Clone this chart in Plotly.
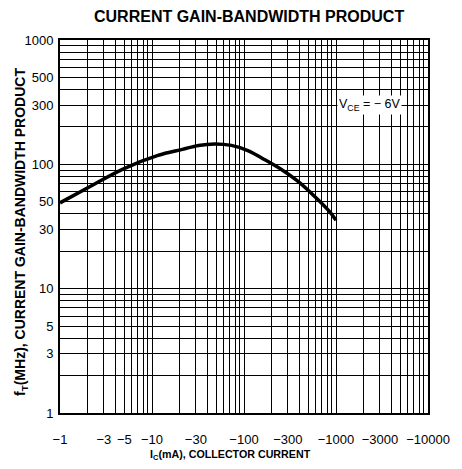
import plotly.graph_objects as go

# Data
ic_ma = [1, 2.1, 4.9, 11.6, 21.4, 32, 48, 73, 110, 164, 248, 372, 560, 843, 1000]
ft_mhz = [49, 66, 92, 118, 132, 142, 146, 142, 129, 110, 92, 74.5, 57, 42, 35.5]

x_label_vals = [1, 3, 5, 10, 30, 100, 300, 1000, 3000, 10000]
x_label_text = ["\u22121", "\u22123", "\u22125", "\u221210", "\u221230", "\u2212100",
                "\u2212300", "\u22121000", "\u22123000", "\u221210000"]
y_label_vals = [1, 3, 5, 10, 30, 50, 100, 300, 500, 1000]
y_label_text = ["1", "3", "5", "10", "30", "50", "100", "300", "500", "1000"]

x_grid = [k * 10 ** d for d in range(4) for k in range(1, 10)] + [10000]
y_grid = [k * 10 ** d for d in range(3) for k in range(1, 10)] + [1000]
x_minor = [g for g in x_grid if g not in x_label_vals]
y_minor = [g for g in y_grid if g not in y_label_vals]

FONT = "Liberation Sans, Arial, sans-serif"

fig = go.Figure()
fig.add_trace(go.Scatter(
    x=ic_ma, y=ft_mhz, mode="lines",
    line=dict(color="black", width=3.5, shape="spline", smoothing=1.0),
    showlegend=False, hoverinfo="skip",
))

# page body has an 8px margin: plot area lands at screen x 60..437, y 40..413
fig.update_layout(
    width=454, height=453, autosize=False,
    margin=dict(l=52, r=25, t=32, b=48),
    paper_bgcolor="white", plot_bgcolor="white",
    font=dict(family=FONT, color="black"),
    xaxis=dict(
        type="log", range=[0, 4],
        tickmode="array", tickvals=x_label_vals, ticktext=x_label_text,
        showgrid=True, gridcolor="black", gridwidth=1.4,
        minor=dict(tickvals=x_minor, showgrid=True, gridcolor="black", gridwidth=1.4, ticks=""),
        showline=True, linecolor="black", linewidth=2, mirror=True,
        ticks="", ticklabelstandoff=13,
        tickfont=dict(family=FONT, size=13, color="black"),
        zeroline=False,
    ),
    yaxis=dict(
        type="log", range=[0, 3],
        tickmode="array", tickvals=y_label_vals, ticktext=y_label_text,
        showgrid=True, gridcolor="black", gridwidth=1.4,
        minor=dict(tickvals=y_minor, showgrid=True, gridcolor="black", gridwidth=1.4, ticks=""),
        showline=True, linecolor="black", linewidth=2, mirror=True,
        ticks="", ticklabelstandoff=2,
        tickfont=dict(family=FONT, size=13, color="black"),
        zeroline=False,
    ),
    annotations=[
        dict(text="<b>CURRENT GAIN-BANDWIDTH PRODUCT</b>", xref="paper", yref="paper",
             x=(254 - 60) / 377, y=1 + (40 - 17) / 373, xanchor="center", yanchor="middle",
             showarrow=False, font=dict(family=FONT, size=16, color="black")),
        dict(text="<b>I<sub>C</sub>(mA), COLLECTOR CURRENT</b>", xref="paper", yref="paper",
             x=(235 - 60) / 377, y=-(455 - 413) / 373, xanchor="center", yanchor="middle",
             showarrow=False, font=dict(family=FONT, size=10.7, color="black")),
        dict(text="<b>f<sub>T</sub>(MHz), CURRENT GAIN-BANDWIDTH PRODUCT</b>", xref="paper", yref="paper",
             x=-(60 - 20) / 377, y=(413 - 232) / 373, xanchor="center", yanchor="middle",
             textangle=-90, showarrow=False, font=dict(family=FONT, size=14, color="black")),
        dict(text="V<sub>CE</sub> = \u2212 6V", xref="x", yref="y",
             x=3.363, y=2.477, xanchor="center", yanchor="middle",
             showarrow=False, bgcolor="white", borderpad=1,
             font=dict(family=FONT, size=12.5, color="black")),
    ],
)

fig.write_html("out.html")
